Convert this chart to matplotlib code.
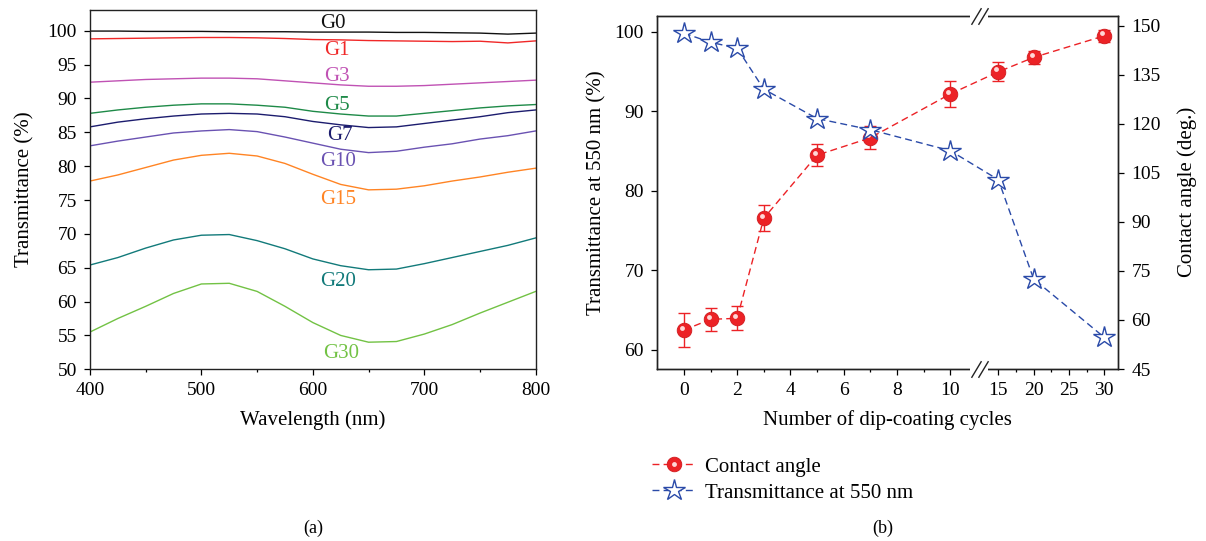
import numpy as np
import matplotlib.pyplot as plt
from matplotlib import transforms
from matplotlib.legend_handler import HandlerTuple

plt.rcParams["font.family"] = ["Liberation Serif", "DejaVu Serif"]

# (a) Transmissionsspektren
WAVELENGTH = [400, 425, 450, 475, 500, 525, 550, 575, 600, 625, 650, 675, 700, 725, 750, 775, 800]
G0 = [99.95, 99.95, 99.9, 99.9, 99.9, 99.85, 99.85, 99.85, 99.8, 99.8, 99.8, 99.75, 99.75, 99.7, 99.65, 99.5, 99.65]
G1 = [98.8, 98.85, 98.9, 98.95, 99.0, 99.0, 98.95, 98.85, 98.7, 98.65, 98.55, 98.5, 98.45, 98.4, 98.45, 98.2, 98.5]
G3 = [92.4, 92.6, 92.8, 92.9, 93.0, 93.0, 92.9, 92.6, 92.3, 92.0, 91.8, 91.8, 91.9, 92.1, 92.3, 92.5, 92.7]
G5 = [87.8, 88.3, 88.7, 89.0, 89.2, 89.2, 89.0, 88.7, 88.1, 87.7, 87.4, 87.4, 87.8, 88.2, 88.6, 88.9, 89.1]
G7 = [85.8, 86.5, 87.0, 87.4, 87.7, 87.8, 87.7, 87.3, 86.6, 86.1, 85.7, 85.8, 86.3, 86.8, 87.3, 87.9, 88.3]
G10 = [83.0, 83.7, 84.3, 84.9, 85.2, 85.4, 85.1, 84.3, 83.4, 82.5, 82.0, 82.2, 82.8, 83.3, 84.0, 84.5, 85.2]
G15 = [77.8, 78.7, 79.8, 80.9, 81.6, 81.9, 81.5, 80.4, 78.8, 77.3, 76.5, 76.6, 77.1, 77.8, 78.4, 79.1, 79.7]
G20 = [65.4, 66.5, 67.9, 69.1, 69.8, 69.9, 69.0, 67.8, 66.3, 65.3, 64.7, 64.8, 65.6, 66.5, 67.4, 68.3, 69.4]
G30 = [55.5, 57.5, 59.3, 61.2, 62.6, 62.7, 61.5, 59.3, 56.9, 55.0, 54.0, 54.1, 55.2, 56.6, 58.3, 59.9, 61.5]

CURVE_NAMES = ["G0", "G1", "G3", "G5", "G7", "G10", "G15", "G20", "G30"]
CURVE_DATA = [G0, G1, G3, G5, G7, G10, G15, G20, G30]
CURVE_COLORS = ["#111111", "#f02828", "#c052b4", "#1e8a48", "#1c1c6e",
                "#6a52b2", "#ff8424", "#127a7a", "#72c244"]
# Beschriftungs-Positionen (nm, %)
LABEL_X = [618, 622, 622, 622, 624, 623, 623, 623, 625]
LABEL_Y = [101.0, 97.05, 93.3, 89.0, 84.6, 80.7, 75.1, 62.9, 52.4]

# (b) Kontaktwinkel / Transmission
CYCLES = [0, 1, 2, 3, 5, 7, 10, 15, 20, 30]
ANGLE = [56.9, 60.2, 60.5, 91.1, 110.4, 115.7, 129.1, 135.9, 140.3, 146.9]
ANGLE_ERR = [5.1, 3.45, 3.7, 4.0, 3.4, 3.5, 4.0, 2.9, 1.9, 1.9]
TRANS550 = [99.85, 98.7, 97.96, 92.8, 89.1, 87.7, 85.06, 81.4, 68.9, 61.56]

RED = "#ec2226"
BLUE = "#2a4aa8"
FS = 15
TICK_FS = 14

# gebrochene x-Achse: 0-10 linear, ab 15 gestaucht
XP = [-10, 10, 15, 60]
FP = [-10, 10, 11.81, 11.81 + 0.265 * 45]


def fwd(x):
    return np.interp(x, XP, FP)


def inv(y):
    return np.interp(y, FP, XP)


def style_ticks(ax):
    ax.tick_params(which="major", direction="out", length=4.5, width=0.9,
                   labelsize=TICK_FS, pad=5)
    ax.tick_params(which="minor", direction="out", length=2.5, width=0.9)
    for s in ax.spines.values():
        s.set_linewidth(1.0)
        s.set_color("#222222")


fig = plt.figure(figsize=(12.06, 5.41), dpi=100)

# ---------- (a) ----------
axa = fig.add_axes([0.0746, 0.3174, 0.3696, 0.6641])
for name, vals, col, lx, ly in zip(CURVE_NAMES, CURVE_DATA, CURVE_COLORS, LABEL_X, LABEL_Y):
    axa.plot(WAVELENGTH, vals, color=col, lw=1.0)
    axa.text(lx, ly, name, color=col, fontsize=FS, ha="center", va="center")

axa.set_xlim(400, 800)
axa.set_ylim(50, 103.06)
axa.set_xticks([400, 500, 600, 700, 800])
axa.set_xticks([450, 550, 650, 750], minor=True)
axa.set_yticks(np.arange(50, 101, 5))
axa.set_xlabel("Wavelength (nm)", fontsize=FS, labelpad=8)
axa.set_ylabel("Transmittance (%)", fontsize=FS, labelpad=9)
style_ticks(axa)
axa.tick_params(top=False, right=False)

# ---------- (b) ----------
axb = fig.add_axes([0.5450, 0.3179, 0.3823, 0.6531])
axb.set_xscale("function", functions=(fwd, inv))
axc = axb.twinx()

axc.errorbar(CYCLES, ANGLE, yerr=ANGLE_ERR, fmt="none", ecolor=RED,
             elinewidth=1.0, capsize=4.5, capthick=1.0, zorder=2)
l_ang, = axc.plot(CYCLES, ANGLE, color=RED, ls="--", dashes=(5, 3), lw=1.0,
                  marker="o", ms=10.5, mfc=RED, mec="#d01a1e", mew=0.6, zorder=3)
hi_shift = axc.transData + transforms.ScaledTranslation(-0.02, 0.025, fig.dpi_scale_trans)
l_hi, = axc.plot(CYCLES, ANGLE, ls="none", marker="o", ms=3.5, mfc="#ffd6d6",
                 mec="none", transform=hi_shift, zorder=4)

l_tr, = axb.plot(CYCLES, TRANS550, color=BLUE, ls="--", dashes=(5, 3), lw=1.0,
                 marker="*", ms=16, mfc="white", mec=BLUE, mew=1.0, zorder=3)

axb.set_zorder(axc.get_zorder() + 1)
axb.patch.set_visible(False)

axb.set_xlim(-1, 32)
axb.set_ylim(57.57, 102.05)
axc.set_ylim(45, 153.06)
axb.set_xticks([0, 2, 4, 6, 8, 10, 15, 20, 25, 30])
axb.set_xticklabels(["0", "2", "4", "6", "8", "10", "15", "20", "25", "30"])
axb.set_xticks([1, 3, 5, 7, 9, 17.5, 22.5, 27.5], minor=True)
axb.set_yticks([60, 70, 80, 90, 100])
axc.set_yticks(np.arange(45, 151, 15))
axb.tick_params(axis="y", which="minor", left=False)
axc.tick_params(axis="y", which="minor", right=False)
style_ticks(axb)
style_ticks(axc)

axb.set_xlabel("Number of dip-coating cycles", fontsize=FS, labelpad=8)
axb.set_ylabel("Transmittance at 550 nm (%)", fontsize=FS, labelpad=6)
axc.set_ylabel("Contact angle (deg.)", fontsize=FS, labelpad=12)

# Achsenbruch "//" oben und unten
x_break = 13
gap = transforms.blended_transform_factory(axb.transData, axb.transAxes)
for yy in (0, 1):
    axb.plot([12.1, 13.9], [yy, yy], color="white", lw=3, transform=gap,
             clip_on=False, zorder=10, solid_capstyle="butt")
    for dx in (-0.035, 0.035):
        tr = gap + transforms.ScaledTranslation(dx, 0, fig.dpi_scale_trans)
        axb.plot([x_break], [yy], ls="none", marker=[(-0.6, -1), (0.6, 1)],
                 ms=12, mec="#222222", mew=1.0, transform=tr,
                 clip_on=False, zorder=11)

fig.legend([(l_ang, l_hi), l_tr], ["Contact angle", "Transmittance at 550 nm"],
           handler_map={tuple: HandlerTuple(ndivide=1, pad=0)},
           loc="upper left", bbox_to_anchor=(0.541, 0.155), frameon=False,
           fontsize=FS, handlelength=2.1, handletextpad=0.4, labelspacing=0.3,
           borderpad=0, borderaxespad=0)

fig.text(0.2595, 0.024, "(a)", fontsize=13, ha="center", va="center")
fig.text(0.7320, 0.024, "(b)", fontsize=13, ha="center", va="center")

fig.savefig("out.png", dpi=100)
plt.close(fig)
